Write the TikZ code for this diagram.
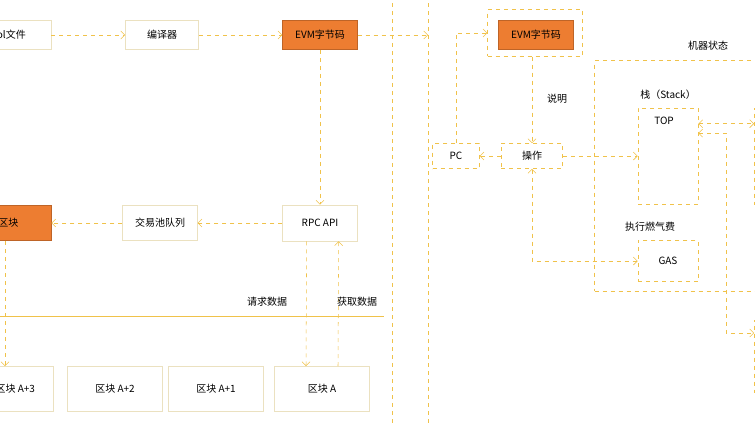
\documentclass[tikz,border=0pt]{standalone}
\usepackage{fontspec}
\setmainfont{Noto Sans CJK SC}
\usetikzlibrary{positioning, arrows.meta}
\definecolor{flow}{HTML}{F0C24A}
\definecolor{edge}{HTML}{EBE1C0}
\definecolor{evm}{HTML}{ED7D31}

\begin{document}
\begin{tikzpicture}[x=0.75pt,y=-0.75pt,font=\fontsize{7.5}{9}\selectfont,
    every node/.style={inner sep=0pt},
    box/.style={draw=edge,fill=white},
    dbox/.style={draw=flow,dashed,fill=white},
    hot/.style={draw=evm!80!black,fill=evm},
    flw/.style={draw=flow,dashed,-{Straight Barb[length=3pt]}},
    both/.style={draw=flow,dashed,{Straight Barb[length=3pt]}-{Straight Barb[length=3pt]}}]
    \useasboundingbox (0,0) rectangle (755,425);
    \clip (0,0) rectangle (755,425);
    % separators
    \draw[flow,dashed] (392,-5) -- (392,430);
    \draw[flow,dashed] (428,-5) -- (428,430);
    \draw[flow] (0,316) -- (384,316);

    % left flow
    \node[box,minimum width=60pt,minimum height=22pt] (sol) at (11,35) {\hspace*{-4pt}Sol文件};
    \node[box,minimum width=55pt,minimum height=22pt] (comp) at (162,35) {编译器};
    \node[hot,minimum width=56pt,minimum height=22pt] (evm) at (320,35) {EVM字节码};
    \node[box,minimum width=56pt,minimum height=27pt] (rpc) at (320,223) {RPC API};
    \node[box,minimum width=56pt,minimum height=26pt] (pool) at (160,223) {交易池队列};
    \node[hot,minimum width=60pt,minimum height=26pt] (blk) at (11,223) {\hspace*{-4pt}区块};
    \node[box,minimum width=71pt,minimum height=34pt] (b3) at (6,389) {\hspace*{14pt}区块 A+3};
    \foreach \name/\cx/\txt in {b2/115/区块 A+2, b1/216/区块 A+1, b0/322/区块 A}
        \node[box,minimum width=71pt,minimum height=34pt] (\name) at (\cx,389) {\txt};

    \draw[flw] (sol) -- (comp);
    \draw[flw] (comp) -- (evm);
    \draw[flw] (evm) -- (rpc);
    \draw[flw] (rpc) -- (pool);
    \draw[flw] (pool) -- (blk);
    \coordinate (s3) at (5,241);
    \draw[flw] (s3) -- (s3 |- b3.north);
    \draw[flw] ([xshift=-10pt]rpc.south) -- ([xshift=-12pt]b0.north);
    \draw[flw] ([xshift=12pt]b0.north) -- ([xshift=14pt]rpc.south);
    \node (req) at (267,302) {请求数据};
    \node (get) at (357,302) {获取数据};

    % right side
    \node[dbox,minimum width=71pt,minimum height=35pt] (code) at (535,33) {};
    \node[hot,minimum width=56pt,minimum height=22pt] (evm2) at (536,35) {EVM字节码};
    \node[dbox,minimum width=35pt,minimum height=19pt] (pc) at (456,156) {PC};
    \node[dbox,minimum width=46pt,minimum height=19pt] (op) at (532,156) {操作};
    \node[draw=flow,dashed,minimum width=140pt,minimum height=173pt] (state) at (688,176) {};
    \node[dbox,minimum width=45pt,minimum height=72pt] (stack) at (668,156) {};
    \node (top) at (664,121) {TOP};
    \node[dbox,minimum width=45pt,minimum height=31pt] (gas) at (668,261) {GAS};
    \node[dbox,minimum width=40pt,minimum height=72pt,anchor=north west] (mem) at (754,108) {};
    \node[dbox,minimum width=40pt,minimum height=54pt,anchor=north west] (store) at (754,320) {};
    \node (lbl1) at (708,46) {机器状态};
    \node (lbl2) at (668,95) {栈（Stack）};
    \node (lbl3) at (650,227) {执行燃气费};
    \node (lbl4) at (557,99) {说明};

    \draw[flw] (evm) -- (evm -| 428,0);
    \draw[flw] (op) -- (pc);
    \draw[flw] (pc.north) |- (code.west);
    \draw[flw] (code.south -| op.north) -- (op.north);
    \draw[flw] (op) -- (stack.west |- op);
    \draw[both] (op.south) |- (gas.west);
    \draw[both] ([yshift=-12pt]stack.north east) -- ([yshift=-12pt]stack.north east -| mem.west);
    \draw[both] ([yshift=-19pt]stack.north east) -| (726,333) -- (store.west |- 0,333);
\end{tikzpicture}
\end{document}
